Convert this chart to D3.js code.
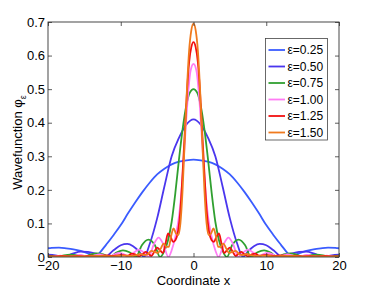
<!DOCTYPE html>
<html>
<head>
<meta charset="utf-8">
<script src="https://cdn.jsdelivr.net/npm/d3@7"></script>
<style>
  body { margin: 0; background: #fff; }
  svg { display: block; }
  text { font-family: "Liberation Sans", Arial, sans-serif; fill: #000; }
</style>
</head>
<body>
<div id="chart"></div>
<script>
// values
const labels = ["ε=0.25", "ε=0.50", "ε=0.75", "ε=1.00", "ε=1.25", "ε=1.50"];
const colors = ["#3a5cff", "#4a36ee", "#30a030", "#ff7cf4", "#f21010", "#f07a1e"];

const xTicks = [-20, -10, 0, 10, 20];
const xTickLabels = ["\u221220", "\u221210", "0", "10", "20"];
const yTicks = [0, 0.1, 0.2, 0.3, 0.4, 0.5, 0.6, 0.7];
const yTickLabels = ["0", "0.1", "0.2", "0.3", "0.4", "0.5", "0.6", "0.7"];

const x025 = [-20,-19.5,-18.5,-17.5,-16.5,-15.5,-14.5,-13.4,-13,-12,-11,-10,-9,-8,-7,-6,-5,-4,-3,-2,-1,
  0,1,2,3,4,5,6,7,8,9,10,11,12,13,13.4,14.5,15.5,16.5,17.5,18.5,19.5,20];
const y025 = [0.026,0.027,0.028,0.026,0.023,0.018,0.011,0.002,0.010,0.037,0.065,0.095,0.130,0.163,0.194,0.222,0.246,0.263,0.276,0.284,0.288,
  0.290,0.288,0.284,0.276,0.263,0.246,0.222,0.194,0.163,0.130,0.095,0.065,0.037,0.010,0.002,0.011,0.018,0.023,0.026,0.028,0.027,0.026];

const x050 = [-20,-19,-17.8,-16.6,-15.5,-14.5,-13.3,-12.2,-11,-10,-9.1,-8.3,-7.5,-6.8,-6,-5,-4,-3,-2,-1,
  0,1,2,3,4,5,6,6.8,7.5,8.3,9.1,10,11,12.2,13.3,14.5,15.5,16.6,17.8,19,20];
const y050 = [0.007,0.005,0.000,0.010,0.016,0.015,0.009,0.000,0.020,0.035,0.039,0.032,0.017,0.000,0.040,0.115,0.210,0.300,0.355,0.394,
  0.410,0.394,0.355,0.300,0.210,0.115,0.040,0.000,0.017,0.032,0.039,0.035,0.020,0.000,0.009,0.015,0.016,0.010,0.000,0.005,0.007];

const x075 = [-20,-19.5,-18.7,-17.8,-16.9,-16,-15.1,-14.2,-13.3,-12.4,-11.5,-10.6,-9.7,-8.8,-7.9,-7.1,-6.2,-5.3,-4.6,-4,-3.5,-3,-2.5,-2,-1.5,-1,-0.5,
  0,0.5,1,1.5,2,2.5,3,3.5,4,4.6,5.3,6.2,7.1,7.9,8.8,9.7,10.6,11.5,12.4,13.3,14.2,15.1,16,16.9,17.8,18.7,19.5,20];
const y075 = [0.004,0.003,0.000,0.005,0.007,0.005,0.000,0.007,0.011,0.008,0.000,0.013,0.020,0.014,0.000,0.035,0.052,0.035,0.000,0.018,0.050,0.105,0.190,0.290,0.380,0.450,0.490,
  0.500,0.490,0.450,0.380,0.290,0.190,0.105,0.050,0.018,0.000,0.035,0.052,0.035,0.000,0.014,0.020,0.013,0.000,0.008,0.011,0.007,0.000,0.005,0.007,0.005,0.000,0.003,0.004];

const x100 = [-20,-19.65,-18.3,-16.95,-15.6,-14.25,-12.9,-11.55,-10.85,-10.2,-9.55,-8.85,-8.15,-7.5,-6.85,-6.15,-5.45,-4.8,-4.15,-3.45,-3,-2.5,-2,-1.6,-1.2,-0.8,-0.4,
  0,0.4,0.8,1.2,1.6,2,2.5,3,3.45,4.15,4.8,5.45,6.15,6.85,7.5,8.15,8.85,9.55,10.2,10.85,11.55,12.9,14.25,15.6,16.95,18.3,19.65,20];
const y100 = [0.002,0.000,0.004,0.000,0.006,0.000,0.008,0.000,0.008,0.012,0.008,0.000,0.014,0.022,0.014,0.000,0.038,0.058,0.038,0.000,0.020,0.060,0.120,0.210,0.340,0.470,0.555,
  0.575,0.555,0.470,0.340,0.210,0.120,0.060,0.020,0.000,0.038,0.058,0.038,0.000,0.014,0.022,0.014,0.000,0.008,0.012,0.008,0.000,0.008,0.000,0.006,0.000,0.004,0.000,0.002];

const x125 = [-20,-19,-18,-17,-16,-15,-14,-13,-12,-11,-10,-9,-8.5,-8,-7.5,-7,-6.6,-6.2,-5.8,-5.4,-5,-4.6,-4.2,-3.85,-3.5,-3.15,-2.8,-2.5,-2.1,-1.8,-1.5,-1.2,-0.9,-0.6,-0.3,
  0,0.3,0.6,0.9,1.2,1.5,1.8,2.1,2.5,2.8,3.15,3.5,3.85,4.2,4.6,5,5.4,5.8,6.2,6.6,7,7.5,8,8.5,9,10,11,12,13,14,15,16,17,18,19,20];
const y125 = [0.002,0.002,0.003,0.002,0.003,0.002,0.004,0.003,0.005,0.003,0.006,0.004,0.010,0.008,0.002,0.008,0.015,0.010,0.003,0.015,0.028,0.020,0.012,0.040,0.070,0.060,0.045,0.050,0.080,0.140,0.250,0.370,0.490,0.580,0.625,
  0.640,0.625,0.580,0.490,0.370,0.250,0.140,0.080,0.050,0.045,0.060,0.070,0.040,0.012,0.020,0.028,0.015,0.003,0.010,0.015,0.008,0.002,0.008,0.010,0.004,0.006,0.003,0.005,0.003,0.004,0.002,0.003,0.002,0.003,0.002,0.002];

const x150 = [-20,-17,-15,-13,-11,-9.5,-8.5,-7.8,-7.3,-6.8,-6.3,-5.8,-5.3,-4.9,-4.5,-4.1,-3.7,-3.4,-3.1,-2.75,-2.4,-2.1,-1.8,-1.5,-1.2,-0.9,-0.6,-0.3,
  0,0.3,0.6,0.9,1.2,1.5,1.8,2.1,2.4,2.75,3.1,3.4,3.7,4.1,4.5,4.9,5.3,5.8,6.3,6.8,7.3,7.8,8.5,9.5,11,13,15,17,20];
const y150 = [0.001,0.002,0.002,0.003,0.002,0.004,0.003,0.006,0.009,0.006,0.008,0.018,0.015,0.012,0.025,0.040,0.030,0.030,0.060,0.085,0.070,0.065,0.100,0.200,0.350,0.500,0.615,0.675,
  0.695,0.675,0.615,0.500,0.350,0.200,0.100,0.065,0.070,0.085,0.060,0.030,0.030,0.040,0.025,0.012,0.015,0.018,0.008,0.006,0.009,0.006,0.003,0.004,0.002,0.003,0.002,0.002,0.001];

const xsList = [x025, x050, x075, x100, x125, x150];
const ysList = [y025, y050, y075, y100, y125, y150];

const width = 374, height = 289;
const margin = {top: 22, right: 35, bottom: 32, left: 48};
const fontFamily = '"Liberation Sans", Arial, sans-serif';

const svg = d3.select("#chart").append("svg")
    .attr("width", width)
    .attr("height", height);

const x = d3.scaleLinear()
    .domain([-20, 20])
    .range([margin.left, width - margin.right]);

const y = d3.scaleLinear()
    .domain([0, 0.7])
    .range([height - margin.bottom, margin.top]);

const pw = x(20) - x(-20), ph = y(0) - y(0.7);

// clip so nothing spills over the box
svg.append("clipPath").attr("id", "plotClip")
  .append("rect")
    .attr("x", margin.left).attr("y", margin.top - 2)
    .attr("width", pw).attr("height", ph + 2);

const line = d3.line()
    .x(d => x(d[0]))
    .y(d => y(d[1]))
    .curve(d3.curveMonotoneX);

const curves = svg.append("g").attr("clip-path", "url(#plotClip)");
for (let i = 0; i < xsList.length; i++) {
  let pts = xsList[i].map((v, j) => [v, ysList[i][j]]);
  curves.append("path")
      .datum(pts)
      .attr("fill", "none")
      .attr("stroke", colors[i])
      .attr("stroke-width", 1.8)
      .attr("stroke-linejoin", "round")
      .attr("d", line);
}

// axes, ticks pointing inward like MATLAB
let xAxis = g => g
    .attr("transform", `translate(0,${y(0)})`)
    .call(d3.axisBottom(x)
      .tickValues(xTicks)
      .tickFormat((d, i) => xTickLabels[i])
      .tickSizeInner(-4)
      .tickSizeOuter(0)
      .tickPadding(4))
    .call(g => g.select(".domain").remove());

let xAxisTop = g => g
    .attr("transform", `translate(0,${y(0.7)})`)
    .call(d3.axisTop(x).tickValues(xTicks).tickFormat("").tickSizeInner(-4).tickSizeOuter(0))
    .call(g => g.select(".domain").remove());

let yAxis = g => g
    .attr("transform", `translate(${x(-20)},0)`)
    .call(d3.axisLeft(y)
      .tickValues(yTicks)
      .tickFormat((d, i) => yTickLabels[i])
      .tickSizeInner(-4)
      .tickSizeOuter(0)
      .tickPadding(3))
    .call(g => g.select(".domain").remove());

let yAxisRight = g => g
    .attr("transform", `translate(${x(20)},0)`)
    .call(d3.axisRight(y).tickValues(yTicks).tickFormat("").tickSizeInner(-4).tickSizeOuter(0))
    .call(g => g.select(".domain").remove());

[xAxis, xAxisTop, yAxis, yAxisRight].forEach(ax => {
  svg.append("g").call(ax)
    .call(g => g.selectAll(".tick line").attr("stroke", "#333").attr("stroke-width", 0.8))
    .call(g => g.selectAll(".tick text")
      .style("font-family", fontFamily)
      .style("font-size", "13px")
      .attr("fill", "#000"));
});

// box
svg.append("rect")
    .attr("x", margin.left).attr("y", margin.top)
    .attr("width", pw).attr("height", ph)
    .attr("fill", "none")
    .attr("stroke", "#333")
    .attr("stroke-width", 0.9);

// axis titles
svg.append("text")
    .attr("x", (x(-20) + x(20)) / 2)
    .attr("y", 284.5)
    .attr("text-anchor", "middle")
    .style("font-size", "13px")
    .text("Coordinate x");

let ylab = svg.append("text")
    .attr("transform", `translate(21.5,${(y(0) + y(0.7)) / 2 + 3}) rotate(-90)`)
    .attr("text-anchor", "middle")
    .style("font-size", "13px");
ylab.append("tspan").text("Wavefunction \u03c6");
ylab.append("tspan").attr("dy", 4).style("font-size", "9px").text("\u03b5");

// legend
const lg = svg.append("g");
lg.append("rect")
    .attr("x", 265.5).attr("y", 38.5)
    .attr("width", 62).attr("height", 101.5)
    .attr("fill", "#fff")
    .attr("stroke", "#444")
    .attr("stroke-width", 0.8);

for (let i = 0; i < labels.length; i++) {
  let ly = 50 + i * 16.5;
  lg.append("line")
      .attr("x1", 268.5).attr("x2", 285)
      .attr("y1", ly).attr("y2", ly)
      .attr("stroke", colors[i])
      .attr("stroke-width", 1.8);
  lg.append("text")
      .attr("x", 287.5).attr("y", ly)
      .attr("dy", "0.36em")
      .style("font-size", "12px")
      .text(labels[i]);
}
</script>
</body>
</html>
